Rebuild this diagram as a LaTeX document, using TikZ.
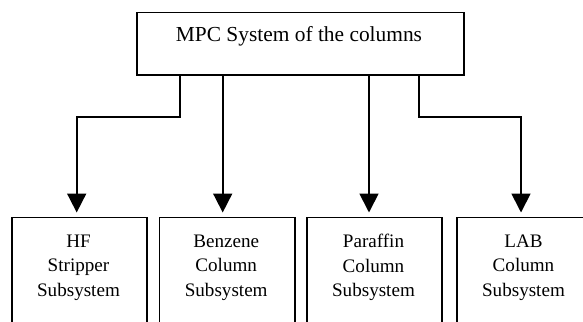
\documentclass[tikz,border=0pt]{standalone}
\usepackage{fontspec}
\setmainfont{Liberation Serif}
\usetikzlibrary{arrows.meta}
\begin{document}
\begin{tikzpicture}[x=1pt,y=-1pt,
  boxstyle/.style={draw=black, line width=1.8pt, minimum width=135pt, inner sep=0pt},
  subbox/.style={boxstyle, anchor=north west, minimum height=140pt},
  subtext/.style={align=center, inner sep=0pt, font=\fontsize{19.1}{24.5}\selectfont},
  toptext/.style={inner sep=0pt, font=\fontsize{21.4}{25}\selectfont},
  conn/.style={line width=1.8pt, -{Triangle[width=19pt,length=19pt]}, shorten >=4pt}
]
\useasboundingbox (0,0) rectangle (583,321);
\clip (0,0) rectangle (583,321);
\node[boxstyle, anchor=north west, minimum width=327pt, minimum height=62.3pt] (top) at (135.7,11.7) {};
\node[toptext] (toplbl) at (299,36.5) {MPC System of the columns};

\node[subbox] (b1) at (11,216.5) {};
\node[subbox, minimum width=135.5pt] (b2) at (158.5,216.5) {};
\node[subbox] (b3) at (306,216.5) {};
\node[subbox] (b4) at (456,216.5) {};

\node[subtext] (t1) at (78.5,267.5) {HF\\Stripper\\Subsystem};
\node[subtext] (t2) at (226.2,267.5) {Benzene\\Column\\Subsystem};
\node[subtext] (t3) at (373.5,267.5) {Paraffin\\Column\\Subsystem};
\node[subtext] (t4) at (523.5,267.5) {LAB\\Column\\Subsystem};

\draw[conn] (180,0 |- top.south) |- (76.7,116.7) -- (76.7,0 |- b1.north);
\draw[conn] (222.7,0 |- top.south) -- (222.7,0 |- b2.north);
\draw[conn] (369,0 |- top.south) -- (369,0 |- b3.north);
\draw[conn] (419.3,0 |- top.south) |- (521,116.7) -- (521,0 |- b4.north);
\end{tikzpicture}
\end{document}
